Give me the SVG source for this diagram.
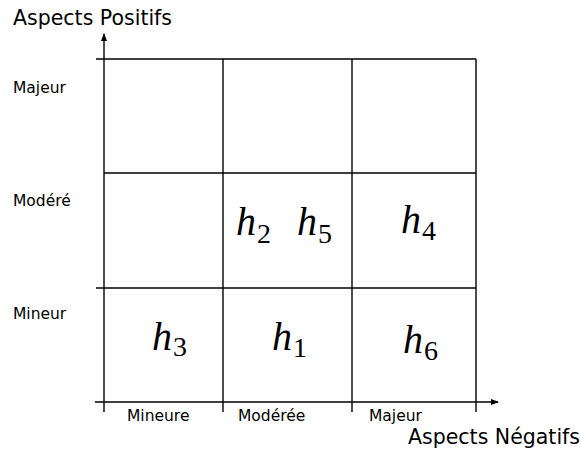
<svg xmlns="http://www.w3.org/2000/svg" width="581" height="452" viewBox="0 0 581 452">
<style>
.ln{stroke:#000;stroke-width:1.4;fill:none}
.lbl{font-family:"DejaVu Sans",sans-serif;font-size:15.5px;fill:#000}
.ax{font-family:"DejaVu Sans",sans-serif;font-size:20.5px;fill:#000}
.h{font-family:"Liberation Serif",serif;font-style:italic;font-size:40px;fill:#000}
.s{font-family:"Liberation Serif",serif;font-style:normal;font-size:28px}
</style>
<defs>
<marker id="arr" markerWidth="8" markerHeight="8" refX="7" refY="4" orient="auto" markerUnits="userSpaceOnUse">
<path d="M0,1 L8,4 L0,7 Z" fill="#000"/>
</marker>
</defs>
<rect width="581" height="452" fill="#fff"/>
<g id="connectors">
<line class="ln" x1="104" y1="412" x2="104" y2="34" marker-end="url(#arr)"/>
<line class="ln" x1="95" y1="402" x2="498" y2="402" marker-end="url(#arr)"/>
<line class="ln" x1="96" y1="59" x2="476" y2="59"/>
<line class="ln" x1="104" y1="173" x2="476" y2="173"/>
<line class="ln" x1="96" y1="288" x2="476" y2="288"/>
<line class="ln" x1="223" y1="59" x2="223" y2="412" stroke="#555"/>
<line class="ln" x1="352" y1="59" x2="352" y2="412"/>
<line class="ln" x1="476" y1="59" x2="476" y2="412"/>
</g>
<g id="axis-y"><text class="ax" x="13" y="25">Aspects Positifs</text></g>
<g id="axis-x"><text class="ax" x="408" y="444">Aspects Négatifs</text></g>
<g id="y-labels">
<text class="lbl" x="13" y="93">Majeur</text>
<text class="lbl" x="13" y="206">Modéré</text>
<text class="lbl" x="13" y="319">Mineur</text>
</g>
<g id="x-labels">
<text class="lbl" x="127" y="421">Mineure</text>
<text class="lbl" x="238" y="421">Modérée</text>
<text class="lbl" x="369" y="421">Majeur</text>
</g>
<g id="h2"><text class="h" x="236" y="235">h<tspan class="s" dx="1" dy="8">2</tspan></text></g>
<g id="h5"><text class="h" x="297" y="235">h<tspan class="s" dx="1" dy="8">5</tspan></text></g>
<g id="h4"><text class="h" x="401" y="233">h<tspan class="s" dx="1" dy="7">4</tspan></text></g>
<g id="h3"><text class="h" x="152" y="350">h<tspan class="s" dx="1" dy="6">3</tspan></text></g>
<g id="h1"><text class="h" x="272" y="350">h<tspan class="s" dx="1" dy="7">1</tspan></text></g>
<g id="h6"><text class="h" x="403" y="353">h<tspan class="s" dx="1" dy="7">6</tspan></text></g>
</svg>
